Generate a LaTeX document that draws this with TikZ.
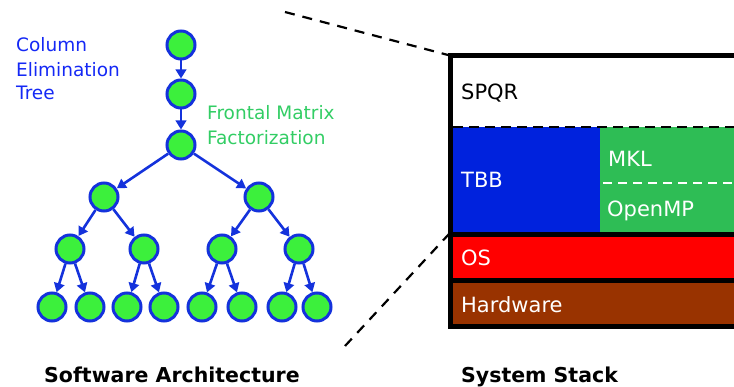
\documentclass[tikz,border=0pt]{standalone}
\usepackage{fontspec}
\setmainfont{DejaVu Sans}
\usetikzlibrary{arrows.meta}
\definecolor{nodegreen}{RGB}{60,240,60}
\definecolor{nodeblue}{RGB}{20,50,220}
\definecolor{lblblue}{RGB}{20,40,245}
\definecolor{lblgreen}{RGB}{50,205,100}
\definecolor{tbbblue}{RGB}{0,34,221}
\definecolor{mklgreen}{RGB}{46,189,85}
\definecolor{osred}{RGB}{255,0,0}
\definecolor{hwbrown}{RGB}{153,51,0}
\begin{document}
\begin{tikzpicture}[x=1pt,y=-1pt,
  tn/.style={circle,draw=nodeblue,fill=nodegreen,line width=3pt,minimum size=28pt,inner sep=0pt},
  ar/.style={draw=nodeblue,line width=2.6pt,-{Triangle[length=9pt,width=10.5pt]}},
  treelbl/.style={anchor=base west,inner sep=0pt,font=\fontsize{18.5}{22}\selectfont},
  stacklbl/.style={anchor=base west,inner sep=0pt,font=\fontsize{21}{25}\selectfont},
  caption/.style={anchor=base west,inner sep=0pt,font=\fontsize{20.5}{24}\selectfont\bfseries},
  zoomline/.style={draw=black,line width=2.2pt,dash pattern=on 10pt off 8pt}]
\useasboundingbox (0,0) rectangle (734,387);
\clip (0,0) rectangle (734,387);

% ---------- tree ----------
\node[tn] (r1) at (181,45) {};
\node[tn] (r2) at (181,94) {};
\node[tn] (r3) at (181,145) {};
\node[tn] (a1) at (104,197) {};
\node[tn] (a2) at (259,197) {};
\node[tn] (b1) at (70,249) {};
\node[tn] (b2) at (144,249) {};
\node[tn] (b3) at (222,249) {};
\node[tn] (b4) at (299,249) {};
\node[tn] (c1) at (52,307) {};
\node[tn] (c2) at (90,307) {};
\node[tn] (c3) at (127,307) {};
\node[tn] (c4) at (164,307) {};
\node[tn] (c5) at (202,307) {};
\node[tn] (c6) at (242,307) {};
\node[tn] (c7) at (282,307) {};
\node[tn] (c8) at (317,307) {};

\draw[ar] (r1) -- (r2);
\draw[ar] (r2) -- (r3);
\draw[ar] (r3) -- (a1);
\draw[ar] (r3) -- (a2);
\draw[ar] (a1) -- (b1);
\draw[ar] (a1) -- (b2);
\draw[ar] (a2) -- (b3);
\draw[ar] (a2) -- (b4);
\draw[ar] (b1) -- (c1);
\draw[ar] (b1) -- (c2);
\draw[ar] (b2) -- (c3);
\draw[ar] (b2) -- (c4);
\draw[ar] (b3) -- (c5);
\draw[ar] (b3) -- (c6);
\draw[ar] (b4) -- (c7);
\draw[ar] (b4) -- (c8);

\node[treelbl,text=lblblue] (t1) at (16,51.7) {Column};
\node[treelbl,text=lblblue] (t2) at (16,76.7) {Elimination};
\node[treelbl,text=lblblue] (t3) at (16,100) {Tree};
\node[treelbl,text=lblgreen] (f1) at (207,120) {Frontal Matrix};
\node[treelbl,text=lblgreen] (f2) at (207,145) {Factorization};

% ---------- stack ----------
\fill[black] (448,53) rectangle (740,329);
\fill[white] (453,58) rectangle (740,127);
\fill[tbbblue] (453,127) rectangle (600,232);
\fill[mklgreen] (600,127) rectangle (740,232);
\fill[osred] (453,237) rectangle (740,278);
\fill[hwbrown] (453,283) rectangle (740,324.5);
\draw[black,line width=2.5pt,dash pattern=on 10pt off 6pt] (453,127) -- (740,127);
\draw[white,line width=2pt,dash pattern=on 9pt off 6pt] (603,183) -- (740,183);

\node[stacklbl,text=black] (spqr) at (461,99.5) {SPQR};
\node[stacklbl,text=white] (tbb) at (461,188) {TBB};
\node[stacklbl,text=white] (mkl) at (608,166.5) {MKL};
\node[stacklbl,text=white] (omp) at (607,216.5) {OpenMP};
\node[stacklbl,text=white] (os) at (461,266) {OS};
\node[stacklbl,text=white] (hw) at (461,312.5) {Hardware};

% ---------- zoom lines ----------
\coordinate (zt1) at (285,12);
\coordinate (zt2) at (448,55);
\coordinate (zb1) at (345,346);
\coordinate (zb2) at (449,234);
\draw[zoomline] (zt1) -- (zt2);
\draw[zoomline] (zb1) -- (zb2);

% ---------- captions ----------
\node[caption] (cap1) at (44,382.5) {Software Architecture};
\node[caption] (cap2) at (461,382.5) {System Stack};
\end{tikzpicture}
\end{document}
